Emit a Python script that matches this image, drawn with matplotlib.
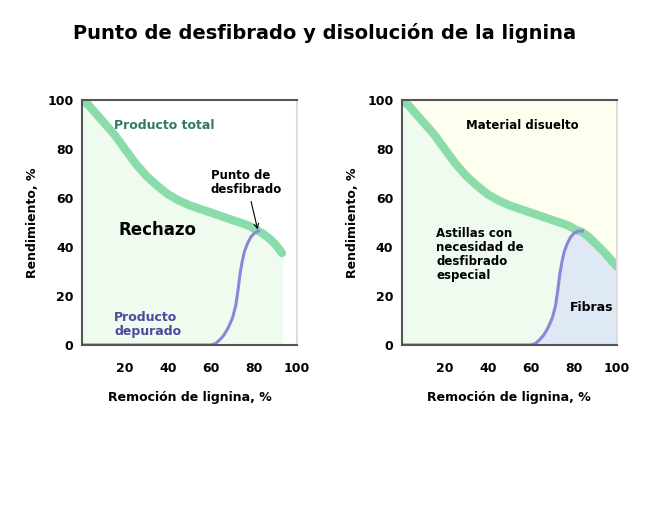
import numpy as np
import matplotlib.pyplot as plt

# Producto total (verde)
total_x_left = [0, 3, 6, 10, 15, 20, 25, 30, 35, 40, 45, 50, 55, 60, 65, 70, 75, 78, 81, 84, 87, 90, 93]
total_y_left = [100, 98, 95, 91, 86, 80, 74, 69, 65, 61.5, 59, 57, 55.5, 54, 52.5, 51, 49.5, 48.5, 47, 45.5, 43.5, 41, 37.5]
total_x_right = [0, 3, 6, 10, 15, 20, 25, 30, 35, 40, 45, 50, 55, 60, 65, 70, 75, 78, 81, 84, 87, 90, 94, 97, 100]
total_y_right = [100, 98, 95, 91, 86, 80, 74, 69, 65, 61.5, 59, 57, 55.5, 54, 52.5, 51, 49.5, 48.5, 47, 46, 44, 41.5, 38, 35, 32]
# Producto depurado (violeta)
pure_x = [0, 60, 62, 64, 66, 68, 70, 71.5, 72.5, 73.5, 74.5, 75.5, 77, 78.5, 80, 82, 84]
pure_y = [0, 0, 0.5, 2, 4, 7, 11, 16, 22, 29, 34, 38, 41.5, 44, 45.5, 46.5, 46.5]
xticks = [20, 40, 60, 80, 100]
yticks = [0, 20, 40, 60, 80, 100]

GREEN = '#7fd9a2'
PURPLE = '#8a86dc'

fig = plt.figure(figsize=(6.5, 5.05), dpi=100)
fig.text(0.5, 0.935, "Punto de desfibrado y disolución de la lignina",
         ha='center', va='center', fontsize=14, weight='bold')

def setup(ax):
    ax.set_xlim(0, 100)
    ax.set_ylim(0, 100)
    ax.set_xticks(xticks)
    ax.set_yticks(yticks)
    ax.tick_params(length=0, labelsize=9, pad=12)
    for lab in ax.get_xticklabels() + ax.get_yticklabels():
        lab.set_fontweight('bold')
    ax.tick_params(axis='y', pad=6)
    for s in ax.spines.values():
        s.set_color('#555555')
        s.set_linewidth(1.5)
    ax.spines['right'].set_color('#dddddd')
    ax.set_xlabel("Remoción de lignina, %", fontsize=9, weight='bold', labelpad=12)
    ax.set_ylabel("Rendimiento, %", fontsize=9, weight='bold', labelpad=6)

# Panel izquierdo
ax1 = fig.add_axes([0.126, 0.317, 0.331, 0.485])
setup(ax1)
ax1.fill_between(total_x_left, total_y_left, 0, color='#f0fbf0', zorder=0)
ax1.plot(total_x_left, total_y_left, color=GREEN, lw=6, solid_capstyle='round', alpha=0.9)
ax1.plot(pure_x[:-1], pure_y[:-1], color=PURPLE, lw=2.2)
ax1.text(15, 88, "Producto total", color='#2f7a6a', fontsize=9, weight='bold')
ax1.text(17, 45, "Rechazo", fontsize=12, weight='bold')
ax1.text(15, 4, "Producto\ndepurado", color='#4a48a0', fontsize=9, weight='bold', linespacing=1.1)
ax1.annotate("Punto de\ndesfibrado", xy=(82, 46), xytext=(60, 62), fontsize=8.5,
             weight='bold', linespacing=1.1,
             arrowprops=dict(arrowstyle='->', color='black', lw=0.8))

# Panel derecho
ax2 = fig.add_axes([0.618, 0.317, 0.331, 0.485])
setup(ax2)
ax2.set_facecolor('#fffff0')
ax2.fill_between(total_x_right, total_y_right, 0, color='#f0fbf0', zorder=0)
fib_x = np.array(pure_x + total_x_right[20:])
fib_y = np.array(pure_y + total_y_right[20:])
ax2.fill_between(fib_x, fib_y, 0, color='#dfe8f5', zorder=0)
ax2.plot(total_x_right, total_y_right, color=GREEN, lw=6, solid_capstyle='round', alpha=0.9)
ax2.plot(pure_x, pure_y, color=PURPLE, lw=2.2)
ax2.text(30, 88, "Material disuelto", fontsize=8.5, weight='bold')
ax2.text(16, 27, "Astillas con\nnecesidad de\ndesfibrado\nespecial", fontsize=8.5,
         weight='bold', linespacing=1.1)
ax2.text(78, 14, "Fibras", fontsize=9, weight='bold')

fig.savefig("out.png", dpi=100)
